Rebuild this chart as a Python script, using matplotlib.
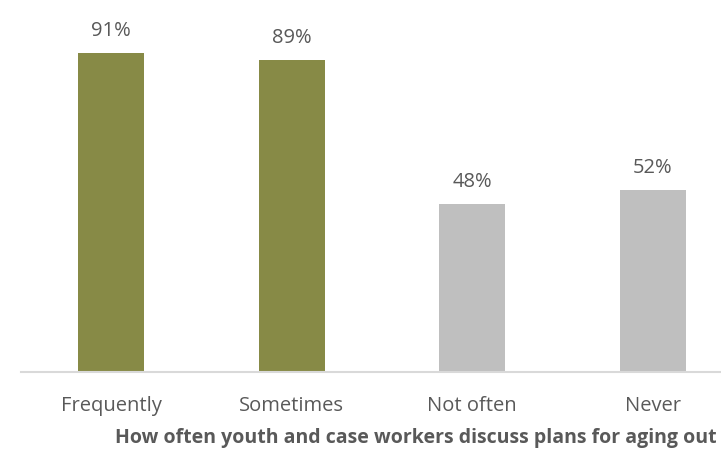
import matplotlib
matplotlib.use("Agg")
import matplotlib.pyplot as plt

categories = ["Frequently", "Sometimes", "Not often", "Never"]
values = [91, 89, 48, 52]
colors = ["#878A46", "#878A46", "#BFBFBF", "#BFBFBF"]
title = "How often youth and case workers discuss plans for aging out"

plt.rcParams["font.family"] = ["Open Sans", "DejaVu Sans"]
text_color = "#595959"

W, H = 721, 455
fig = plt.figure(figsize=(W / 100, H / 100), dpi=100)
left_px, base_px = 21, 372
ax = fig.add_axes([left_px / W, (H - base_px) / H, 1 - left_px / W, base_px / H])

x = list(range(len(categories)))
bars = ax.bar(x, values, width=66 / 180.5, color=colors, zorder=2)
ax.set_xlim(-0.5, -0.5 + (W - left_px) / 180.5)
ax.set_ylim(0, 106)

for rect, v in zip(bars, values):
    ax.annotate(f"{v}%", (rect.get_x() + rect.get_width() / 2, v),
                xytext=(0, 12), textcoords="offset points",
                ha="center", va="baseline", fontsize=14.5, color=text_color)

for s in ["top", "right", "left"]:
    ax.spines[s].set_visible(False)
ax.spines["bottom"].set_color("#D9D9D9")
ax.spines["bottom"].set_linewidth(1.5)
ax.set_yticks([])
ax.set_xticks(x)
ax.set_xticklabels(categories, fontsize=14.5, color=text_color)
ax.tick_params(axis="x", length=0, pad=17)

fig.text(416 / W, 1 - 438 / H, title, ha="center", va="center",
         fontsize=14, fontweight="bold", color=text_color)

fig.savefig("out.png", dpi=100)
